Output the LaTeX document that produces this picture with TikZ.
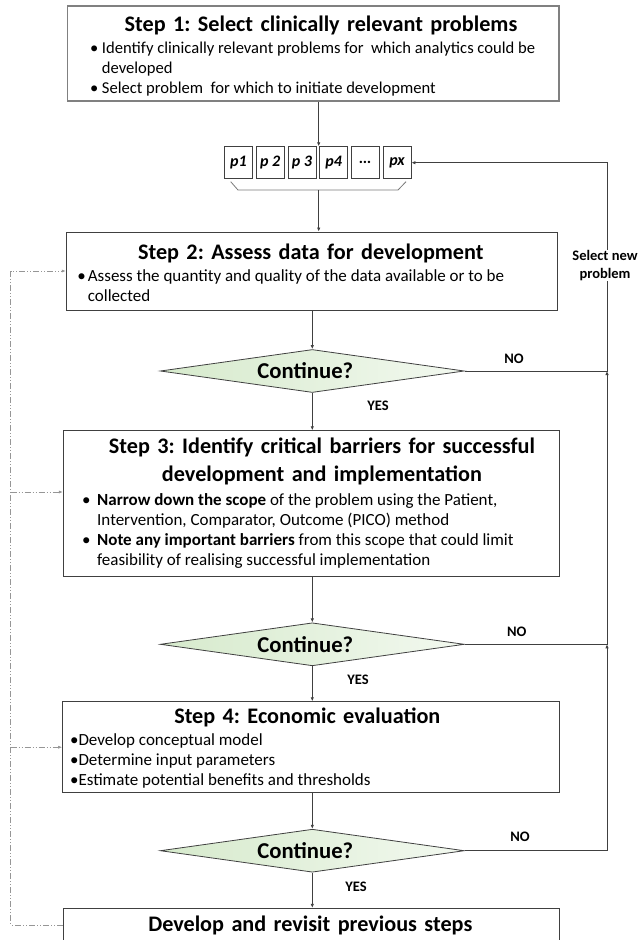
\documentclass[tikz,border=0pt]{standalone}
\usepackage{fontspec}
\setmainfont{Carlito}
\frenchspacing
\usetikzlibrary{positioning,shapes.geometric,arrows.meta}
\definecolor{mygray}{RGB}{64,64,64}
\definecolor{myframe}{RGB}{128,128,128}
\definecolor{mygreen}{RGB}{214,234,204}
\definecolor{mydash}{RGB}{150,150,150}
\newcommand{\bl}[1]{\makebox[#1][l]{\textbullet}}

\begin{document}
\begin{tikzpicture}[x=1bp,y=-1bp,
  every node/.style={inner sep=0pt},
  stepbox/.style={draw=mygray,line width=0.9bp,rectangle},
  steptitle/.style={font=\fontsize{22.2bp}{28.5bp}\selectfont\bfseries,anchor=base,text width=490bp,align=center},
  bullets/.style={font=\fontsize{17bp}{20bp}\selectfont,anchor=base west},
  pbox/.style={draw=mygray,line width=0.8bp,minimum width=28bp,minimum height=32bp,font=\fontsize{16bp}{16bp}\selectfont\bfseries\itshape},
  decision/.style={diamond,draw=mygray,line width=0.8bp,left color=mygreen,right color=mygreen!30!white,minimum width=304bp,minimum height=43bp,aspect=7,font=\fontsize{22.7bp}{24bp}\selectfont\bfseries},
  answer/.style={font=\fontsize{14.5bp}{17.5bp}\selectfont\bfseries,align=center},
  flow/.style={draw=mygray,line width=0.8bp,-{Latex[length=4bp,width=3.5bp]}},
  backflow/.style={draw=mydash,line width=0.7bp,dash pattern=on 6bp off 2bp on 1bp off 2bp on 1bp off 2bp,-{Latex[length=4bp,width=3bp]}}
]
\useasboundingbox (0,0) rectangle (639,940);

% step 1
\node[stepbox,draw=myframe,line width=1.2bp,minimum width=491.3bp,minimum height=95bp] (s1) at (313.3,53.5) {};
\node[steptitle] (s1t) at (321,31.7) {Step 1: Select clinically relevant problems};
\node[bullets,font=\fontsize{16.6bp}{20bp}\selectfont] (s1b) at (90,53) {\begin{tabular}[t]{@{}l@{}l@{}}
  \bl{11.7bp} & Identify clinically relevant problems for\ \ which analytics could be\\
  & developed\\
  \bl{11.7bp} & Select problem\ \ for which to initiate development
\end{tabular}};

% the problems
\foreach \lbl [count=\i] in {p1,p 2,p 3,p4,\ldots,px}
  \node[pbox] (p\i) at ({238.5+31.7*(\i-1)},162.7) {\lbl};
\draw[draw=mygray!70,line width=0.8bp] (230.7,181.7) -- (238,190) -- (398,190) -- (406,181.7);
\coordinate (br) at (318.7,190);

% step 2
\node[stepbox,minimum width=491bp,minimum height=78bp] (s2) at (311.8,271) {};
\node[steptitle] (s2t) at (310.8,259) {Step 2: Assess data for development};
\node[bullets] (s2b) at (77.3,281.7) {\begin{tabular}[t]{@{}l@{}l@{}}
  \bl{10.4bp} & Assess the quantity and quality of the data available or to be\\
  & collected
\end{tabular}};

% step 3
\node[stepbox,minimum width=495.7bp,minimum height=146bp] (s3) at (311.2,503.7) {};
\node[steptitle] (s3t) at (322,453) {Step 3: Identify critical barriers for successful\\development and implementation};
\node[bullets] (s3b) at (82,505) {\begin{tabular}[t]{@{}l@{}l@{}}
  \bl{15bp} & \textbf{Narrow down the scope} of the problem using the Patient,\\
  & Intervention, Comparator, Outcome (PICO) method\\
  \bl{15bp} & \textbf{Note any important barriers} from this scope that could limit\\
  & feasibility of realising successful implementation
\end{tabular}};

% step 4
\node[stepbox,minimum width=496.3bp,minimum height=91bp] (s4) at (310.85,747.2) {};
\node[steptitle] (s4t) at (307.3,723) {Step 4: Economic evaluation};
\node[bullets] (s4b) at (70,745) {\begin{tabular}[t]{@{}l@{}l@{}}
  \bl{8.3bp} & Develop conceptual model\\
  \bl{8.3bp} & Determine input parameters\\
  \bl{8.3bp} & Estimate potential benefits and thresholds
\end{tabular}};

% last step
\node[stepbox,minimum width=496bp,minimum height=60bp] (fin) at (311,938.3) {};
\node[steptitle] (fint) at (310.3,931.7) {Develop and revisit previous steps};

% the decisions
\node[decision] (d1) at (312.3,371) {\kern-14bp Continue?};
\node[decision] (d2) at (312.3,644.3) {\kern-14bp Continue?};
\node[decision] (d3) at (312.3,850.7) {\kern-14bp Continue?};
\node[answer] (no1) at (514,359) {NO};
\node[answer] (no2) at (516.7,632) {NO};
\node[answer] (no3) at (520,836.7) {NO};
\node[answer] (yes1) at (378,405.7) {YES};
\node[answer] (yes2) at (358,680) {YES};
\node[answer] (yes3) at (356,886.7) {YES};

% main flow
\draw[flow] (s1.south -| br) -- (br |- p1.north);
\draw[flow] (br) -- (br |- s2.north);
\draw[flow] (s2.south -| d1.north) -- (d1.north);
\draw[flow] (d1.south) -- (d1.south |- s3.north);
\draw[flow] (s3.south -| d2.north) -- (d2.north);
\draw[flow] (d2.south) -- (d2.south |- s4.north);
\draw[flow] (s4.south -| d3.north) -- (d3.north);
\draw[flow] (d3.south) -- (d3.south |- fin.north);

% the NO branches
\coordinate (rail) at (607,0);
\draw[flow] (d1.east) -- (d1.east -| rail) |- (p6.east);
\draw[flow] (d2.east) -- (d2.east -| rail) -- (d1.east -| rail);
\draw[flow] (d3.east) -- (d3.east -| rail) -- (d2.east -| rail);
\node[answer,fill=white,inner sep=1bp] (sel) at (605,265.5) {Select new\\problem};

% going back
\coordinate (lb) at (10.7,0);
\coordinate (fb) at ([yshift=-17bp]fin.north west);
\coordinate (s3in) at ([yshift=11.7bp]s3.west);
\draw[backflow] (fb) -- (fb -| lb) |- (s2.west);
\draw[backflow] (s3in -| lb) -- (s3in);
\draw[backflow] (s4.west -| lb) -- (s4.west);
\end{tikzpicture}
\end{document}
